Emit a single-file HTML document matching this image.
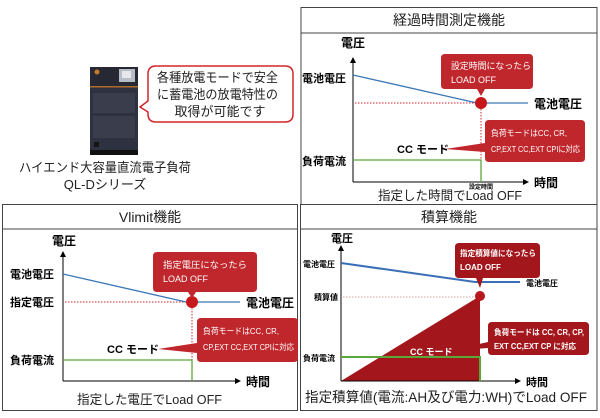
<!DOCTYPE html>
<html><head><meta charset="utf-8"><style>
body{margin:0;background:#fff;}
svg{display:block;font-family:"Liberation Sans","Noto Sans CJK JP",sans-serif;}
.b{font-weight:bold;}
</style></head><body>
<svg width="600" height="418" viewBox="0 0 600 418" xmlns="http://www.w3.org/2000/svg">
<defs>
<marker id="ar" markerWidth="6" markerHeight="6" refX="5" refY="3" orient="auto"><path d="M0,0 L6,3 L0,6 z" fill="#000"/></marker>
</defs>
<g fill="none" stroke="#444" stroke-width="1">
<rect x="301" y="7.5" width="296" height="197"/>
<line x1="301" y1="33" x2="597" y2="33"/>
<rect x="2.5" y="204.5" width="295" height="206"/>
<line x1="2.5" y1="229" x2="297.5" y2="229"/>
<rect x="300.5" y="204.5" width="296.5" height="206"/>
<line x1="300.5" y1="229" x2="597" y2="229"/>
</g>
<text x="449" y="25" font-size="14" text-anchor="middle" fill="#222">経過時間測定機能</text>
<text x="150" y="222" font-size="14" text-anchor="middle" fill="#222">Vlimit機能</text>
<text x="449" y="222" font-size="14" text-anchor="middle" fill="#222">積算機能</text>

<!-- device -->
<rect x="90" y="67" width="48" height="86" fill="#2e3140"/>
<rect x="90" y="67" width="48" height="20" fill="#262833"/>
<rect x="119" y="69" width="16" height="13" fill="#b8bcc4"/>
<rect x="122" y="71" width="9" height="7" fill="#e8e8ec"/>
<circle cx="97" cy="72" r="2.5" fill="#c57a2a"/>
<rect x="90" y="86" width="48" height="1.5" fill="#b06a2a"/>
<rect x="93" y="93" width="42" height="20" fill="#3a3d4c"/>
<rect x="93" y="116" width="42" height="22" fill="#3a3d4c"/>
<rect x="94" y="142" width="5" height="5" fill="#151515"/>
<rect x="90" y="150" width="48" height="5" fill="#111"/>
<path d="M156,66 H285 Q293,66 293,74 V114 Q293,122 285,122 H156 Q148,122 148,114 V112 L140,107 L148,101 V74 Q148,66 156,66 Z" fill="#fff" stroke="#d0262b" stroke-width="1.5"/>
<text x="157" y="82" font-size="13" textLength="121" lengthAdjust="spacingAndGlyphs" fill="#222">各種放電モードで安全</text>
<text x="157" y="99" font-size="13" textLength="121" lengthAdjust="spacingAndGlyphs" fill="#222">に蓄電池の放電特性の</text>
<text x="220" y="116" font-size="13" text-anchor="middle" fill="#222">取得が可能です</text>
<text x="19" y="172" font-size="13" textLength="172" lengthAdjust="spacingAndGlyphs" fill="#222">ハイエンド大容量直流電子負荷</text>
<text x="105" y="189" font-size="13" text-anchor="middle" fill="#222">QL-Dシリーズ</text>

<!-- top right chart -->
<g>
<text x="341" y="47" font-size="12" class="b">電圧</text>
<line x1="353" y1="182" x2="353" y2="58" stroke="#000" marker-end="url(#ar)"/>
<line x1="353" y1="182" x2="528" y2="182" stroke="#000" marker-end="url(#ar)"/>
<text x="534" y="187" font-size="12" class="b">時間</text>
<text x="302" y="82" font-size="11" class="b">電池電圧</text>
<text x="302" y="165" font-size="11" class="b">負荷電流</text>
<line x1="355" y1="103" x2="477" y2="103" stroke="#d0262b" stroke-dasharray="1.5,1.5"/>
<line x1="481" y1="109" x2="481" y2="180" stroke="#d0262b" stroke-dasharray="1.5,1.5"/>
<line x1="353" y1="75" x2="477" y2="103" stroke="#3a78b8" stroke-width="1.3"/>
<line x1="486" y1="103" x2="528" y2="103" stroke="#3a78b8" stroke-width="1.3"/>
<circle cx="481" cy="103" r="6" fill="#c8161d"/>
<text x="534" y="108" font-size="12" class="b">電池電圧</text>
<polyline points="353,160 481,160 481,182" stroke="#5aa83a" stroke-width="1.3" fill="none"/>
<path d="M445,54 H529 Q533,54 533,58 V85 Q533,89 529,89 H485 L481,96 L477,89 H445 Q441,89 441,85 V58 Q441,54 445,54 Z" fill="#c0272d"/>
<text x="451" y="69" font-size="9" textLength="80" lengthAdjust="spacingAndGlyphs" fill="#fff">設定時間になったら</text>
<text x="451" y="83" font-size="9" fill="#fff">LOAD OFF</text>
<path d="M489,120 H581 Q585,120 585,124 V158 Q585,162 581,162 H489 Q485,162 485,158 V152 L445,149 L485,143 V124 Q485,120 489,120 Z" fill="#c0272d"/>
<text x="491" y="136" font-size="8.5" textLength="76" lengthAdjust="spacingAndGlyphs" fill="#fff">負荷モードはCC, CR,</text>
<text x="491" y="152" font-size="8.5" textLength="89" lengthAdjust="spacingAndGlyphs" fill="#fff">CP,EXT CC,EXT CPIに対応</text>
<text x="397" y="153" font-size="11" class="b">CC モード</text>
<text x="481" y="189" font-size="6" text-anchor="middle" class="b">設定時間</text>
<text x="378" y="200" font-size="13" textLength="144" lengthAdjust="spacingAndGlyphs" fill="#222">指定した時間でLoad OFF</text>
</g>

<!-- bottom left chart -->
<g>
<text x="52" y="245" font-size="12" class="b">電圧</text>
<line x1="63" y1="381" x2="63" y2="252" stroke="#000" marker-end="url(#ar)"/>
<line x1="63" y1="381" x2="240" y2="381" stroke="#000" marker-end="url(#ar)"/>
<text x="246" y="386" font-size="12" class="b">時間</text>
<text x="10" y="278" font-size="11" class="b">電池電圧</text>
<text x="10" y="306" font-size="11" class="b">指定電圧</text>
<text x="10" y="364" font-size="11" class="b">負荷電流</text>
<line x1="65" y1="302" x2="186" y2="302" stroke="#d0262b" stroke-dasharray="1.5,1.5"/>
<line x1="192" y1="308" x2="192" y2="380" stroke="#d0262b" stroke-dasharray="1.5,1.5"/>
<line x1="63" y1="274" x2="186" y2="302" stroke="#3a78b8" stroke-width="1.3"/>
<line x1="197" y1="302" x2="240" y2="302" stroke="#3a78b8" stroke-width="1.3"/>
<circle cx="192" cy="302" r="6" fill="#c8161d"/>
<text x="246" y="307" font-size="12" class="b">電池電圧</text>
<polyline points="63,360 192,360 192,381" stroke="#5aa83a" stroke-width="1.3" fill="none"/>
<path d="M157,252 H253 Q257,252 257,256 V288 Q257,292 253,292 H196 L192,298 L188,292 H157 Q153,292 153,288 V256 Q153,252 157,252 Z" fill="#c0272d"/>
<text x="163" y="268" font-size="9" textLength="84" lengthAdjust="spacingAndGlyphs" fill="#fff">指定電圧になったら</text>
<text x="163" y="282" font-size="9" fill="#fff">LOAD OFF</text>
<path d="M201,318 H294 Q298,318 298,322 V358 Q298,362 294,362 H201 Q197,362 197,358 V353 L158,349 L197,343 V322 Q197,318 201,318 Z" fill="#c0272d"/>
<text x="203" y="334" font-size="8.5" textLength="76" lengthAdjust="spacingAndGlyphs" fill="#fff">負荷モードはCC, CR,</text>
<text x="203" y="350" font-size="8.5" textLength="91" lengthAdjust="spacingAndGlyphs" fill="#fff">CP,EXT CC,EXT CPIに対応</text>
<text x="107" y="353" font-size="11" class="b">CC モード</text>
<text x="77" y="404" font-size="13" textLength="145" lengthAdjust="spacingAndGlyphs" fill="#222">指定した電圧でLoad OFF</text>
</g>

<!-- bottom right chart -->
<g>
<text x="331" y="242" font-size="11" class="b">電圧</text>
<polygon points="341,381 480,296 480,381" fill="#a3171c"/>
<line x1="341" y1="381" x2="341" y2="246" stroke="#000" marker-end="url(#ar)"/>
<line x1="341" y1="381" x2="520" y2="381" stroke="#000" marker-end="url(#ar)"/>
<text x="526" y="386" font-size="11" class="b">時間</text>
<text x="303" y="267" font-size="8" class="b">電池電圧</text>
<text x="314" y="300" font-size="8" class="b">積算値</text>
<text x="303" y="361" font-size="8" class="b">負荷電流</text>
<line x1="343" y1="297" x2="476" y2="297" stroke="#d9a09a" stroke-dasharray="1.5,1.5"/>
<polyline points="341,263 475,282 520,282" stroke="#3a6fb8" stroke-width="2" fill="none"/>
<text x="526" y="286" font-size="8" class="b">電池電圧</text>
<circle cx="480" cy="296" r="5" fill="#b8161c"/>
<polyline points="341,357 480,357 480,381" stroke="#5aa83a" stroke-width="2" fill="none"/>
<path d="M459,243 H536 Q540,243 540,247 V274 Q540,278 536,278 H483 L480,288 L476,278 H459 Q455,278 455,274 V247 Q455,243 459,243 Z" fill="#a3171c"/>
<text x="460" y="256" font-size="8" textLength="76" lengthAdjust="spacingAndGlyphs" fill="#fff" class="b">指定積算値になったら</text>
<text x="460" y="270" font-size="8" fill="#fff" class="b">LOAD OFF</text>
<path d="M492,322 H585 Q589,322 589,326 V351 Q589,355 585,355 H492 Q488,355 488,351 V348 L448,351 L488,342 V326 Q488,322 492,322 Z" fill="#a3171c"/>
<text x="494" y="335" font-size="8" textLength="90" lengthAdjust="spacingAndGlyphs" fill="#fff" class="b">負荷モードは CC, CR, CP,</text>
<text x="494" y="349" font-size="8" textLength="82" lengthAdjust="spacingAndGlyphs" fill="#fff" class="b">EXT CC,EXT CP に対応</text>
<text x="410" y="355" font-size="9" fill="#fff" class="b">CC モード</text>
<text x="305" y="402" font-size="14" textLength="282" lengthAdjust="spacingAndGlyphs" fill="#222">指定積算値(電流:AH及び電力:WH)でLoad OFF</text>
</g>
</svg>
</body></html>
